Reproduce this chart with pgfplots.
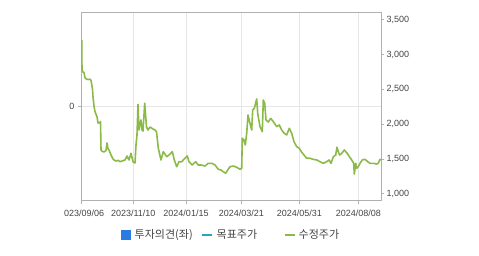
\documentclass[border=0pt]{standalone}
\usepackage{fontspec}
\setmainfont{Liberation Sans}
\newfontfamily\kr{Noto Sans CJK KR}
\usepackage{pgfplots}
\pgfplotsset{compat=1.18}
\definecolor{bordergray}{RGB}{176,176,176}
\definecolor{gridgray}{RGB}{230,230,230}
\definecolor{txt}{RGB}{68,68,68}
\definecolor{kgreen}{RGB}{139,186,72}
\definecolor{kblue}{RGB}{42,124,226}
\definecolor{kcyan}{RGB}{38,166,190}
\begin{document}
\begin{tikzpicture}[x=1pt,y=1pt]
\useasboundingbox (0,0) rectangle (479,255);
\begin{axis}[
  at={(81pt,54.3pt)}, anchor=south west, scale only axis,
  width=300pt, height=188pt,
  xmin=0, xmax=300, ymin=-1, ymax=1,
  axis line style={draw=bordergray, line width=0.8pt},
  xtick={0.7,52.3,105,160.3,218.3,277.3},
  xticklabels={\hphantom{2}023/09/06,2023/11/10,2024/01/15,2024/03/21,2024/05/31,2024/08/08},
  ytick={0},
  xtick pos=left, ytick pos=left,
  grid=major, major grid style={draw=gridgray, line width=0.8pt},
  tick align=outside, major tick length=3pt,
  major tick style={draw=bordergray, line width=0.8pt},
  ticklabel style={font=\fontsize{9}{10}\selectfont, text=txt},
  xticklabel style={yshift=-3pt},
  /pgf/number format/assume math mode=true,
]
\end{axis}
\begin{axis}[
  at={(81pt,54.3pt)}, anchor=south west, scale only axis,
  width=300pt, height=188pt,
  xmin=0, xmax=300, ymin=900, ymax=3600,
  axis x line=none, axis y line*=right,
  axis line style={draw=bordergray, line width=0.8pt},
  ytick={1000,1500,2000,2500,3000,3500},
  ytick pos=right,
  tick align=outside, major tick length=3pt,
  major tick style={draw=bordergray, line width=0.8pt},
  ticklabel style={font=\fontsize{9}{10}\selectfont, text=txt},
  yticklabel style={/pgf/number format/1000 sep={,}, xshift=-1pt},
  /pgf/number format/assume math mode=true,
  legend columns=3,
  legend style={draw=none, fill=none, at={(0.5,-0.182)}, anchor=center,
    font=\kr\fontsize{11}{12}\selectfont, text=txt,
    /tikz/every even column/.append style={column sep=0pt}},
  legend cell align=left,
]
\addlegendimage{legend image code/.code={\fill[kblue] (0pt,-4.5pt) rectangle (9pt,4.5pt);}}
\addlegendentry{\hspace*{2.5pt}\makebox[64pt][l]{투자의견(좌)}}
\addlegendimage{legend image code/.code={\draw[kcyan,line width=2.5pt] (0pt,0pt) -- (10pt,0pt);}}
\addlegendentry{\hspace*{1.5pt}\makebox[65pt][l]{목표주가}}
\addplot[kgreen, line width=1.6pt, line join=round,
  legend image code/.code={\draw[kgreen,line width=2pt] (0pt,0pt) -- (10pt,0pt);}]
coordinates {
(0.7,3208)(1.0,2780)(2,2748)(3,2740)(4,2665)(5,2650)(7,2640)(9,2645)(10,2630)
(11.5,2500)(12,2394)(13,2260)(14,2178)(16,2106)(17,2016)(18.5,2020)(19.5,2035)
(20,1628)(21,1610)(23,1600)(25,1620)(26,1729)(27,1650)(28,1628)(30,1556)
(32,1500)(33,1485)(35,1470)(37,1480)(39,1460)(41,1470)(44,1485)(46,1542)
(48,1485)(50,1581)(52,1460)(54,1441)(55,1700)(56,1844)(57,2284)(58,1915)
(59,2000)(60,2060)(61,1915)(62,1900)(63.7,2299)(64.5,2150)(65.5,1958)(67,1915)
(69,1958)(72,1930)(74,1915)(75.5,1891)(77.3,1653)(80,1485)(82.3,1604)(85.7,1532)
(88,1556)(91.3,1604)(93.3,1485)(95.7,1388)(98,1460)(100.7,1460)(104,1509)
(106.3,1542)(108,1460)(111.3,1413)(114.7,1460)(117.3,1413)(120,1413)(124,1398)
(127.3,1437)(130.7,1437)(134,1413)(137.3,1351)(140,1341)(142.3,1316)(144.7,1294)
(146.7,1341)(149,1388)(152.3,1398)(155.7,1380)(159,1351)(160.7,1365)(161.3,1796)
(163,1772)(164.3,1700)(165.7,1868)(167,2131)(169,2010)(170.7,1915)(171.7,2203)
(173.3,2227)(175.7,2361)(176.7,2155)(179,1963)(181.3,1891)(182.3,2346)(183.7,2300)
(185,2059)(187.3,2030)(189.7,2083)(192.3,2035)(195.7,1963)(198.3,1987)(200.7,1915)
(203.3,1868)(205.7,1844)(208.3,1940)(210.7,1868)(213,1747)(215.7,1676)(218.3,1653)
(220.3,1604)(223,1556)(225.7,1509)(229,1509)(232,1495)(235.7,1485)(239,1460)
(242.3,1437)(245.7,1460)(248,1485)(250,1437)(252.3,1532)(254.7,1556)(256,1667)
(257.3,1604)(258.7,1556)(260.7,1580)(263.3,1628)(265.7,1589)(268,1542)(270.7,1485)
(272.7,1437)(273.3,1283)(274.7,1437)(275.7,1365)(277.3,1388)(279,1437)(281.3,1485)
(284,1495)(286.7,1460)(289,1437)(292.3,1437)(295.7,1427)(297.3,1437)(299,1495)(300,1485)
};
\addlegendentry{\hspace*{1pt}수정주가}
\end{axis}
\end{tikzpicture}
\end{document}
